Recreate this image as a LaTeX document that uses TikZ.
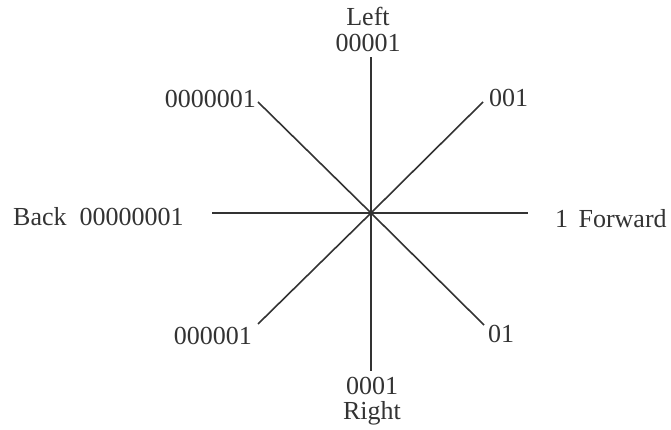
\documentclass[tikz,border=0pt]{standalone}
\usepackage{fontspec}
\setmainfont{Liberation Serif}
\begin{document}
\begin{tikzpicture}[x=1pt,y=1pt,
  spoke/.style={line width=1.6pt,draw=black!80},
  lbl/.style={inner sep=0pt,text=black!80,font=\fontsize{26}{28}\selectfont}]
\useasboundingbox (0,0) rectangle (671,430);
\coordinate (O) at (371,217);
\coordinate (N) at (371,373);
\coordinate (S) at (371,59);
\coordinate (W) at (212,217);
\coordinate (E) at (528,217);
\coordinate (NE) at (483,328);
\coordinate (NW) at (258,328);
\coordinate (SW) at (258,106);
\coordinate (SE) at (484,105);
\foreach \p in {N,S,W,E,NE,NW,SW,SE} \draw[spoke] (O) -- (\p);
\node[lbl,anchor=south,align=center,font=\fontsize{26}{26}\selectfont] (left) at (368,378) {Left\\00001};
\node[lbl,anchor=base east] (nw) at (256,322) {0000001};
\node[lbl,anchor=base west] (ne) at (489,323) {001};
\node[lbl,anchor=base west] (back) at (13,204) {Back\hspace{0.5em}00000001};
\node[lbl,anchor=base west] (fwd) at (555,202) {1\hspace{0.4em}Forward};
\node[lbl,anchor=base east] (sw) at (252,85) {000001};
\node[lbl,anchor=base west] (se) at (488,87) {01};
\node[lbl,anchor=north,align=center,font=\fontsize{26}{25}\selectfont] (right) at (372,53) {0001\\Right};
\end{tikzpicture}
\end{document}
